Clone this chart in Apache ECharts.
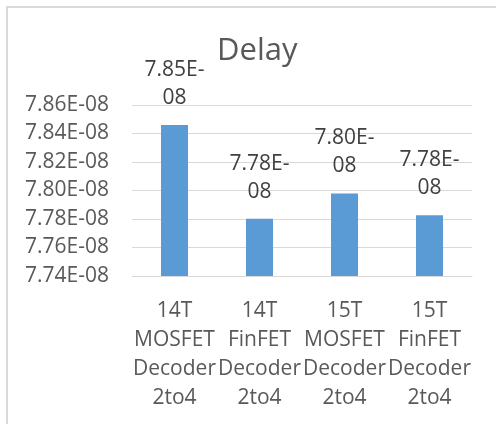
<!DOCTYPE html>
<html>
<head>
    <meta charset="UTF-8">
    <title>Delay</title>
    <script src="https://cdn.jsdelivr.net/npm/echarts@6/dist/echarts.min.js"></script>
    <style>
        html, body { margin: 0; padding: 0; background: #fff; }
        #chart { width: 496px; height: 424px; }
    </style>
</head>
<body>
<div id="chart"></div>
<script type="text/javascript">
    // 数据
    var categories = ['14T MOSFET Decoder 2to4', '14T FinFET Decoder 2to4', '15T MOSFET Decoder 2to4', '15T FinFET Decoder 2to4'];
    var delayValues = [7.846e-8, 7.7802e-8, 7.7979e-8, 7.7826e-8];
    var yMin = 7.74e-8, yMax = 7.86e-8, yStep = 0.02e-8;

    // Excel 0.00E+00 格式
    function sci(v) {
        var s = v.toExponential(2).split('e');
        var exp = parseInt(s[1], 10);
        var sign = exp < 0 ? '-' : '+';
        var e = Math.abs(exp);
        return s[0] + 'E' + sign + (e < 10 ? '0' + e : '' + e);
    }

    var font = '"Open Sans", "Noto Sans", sans-serif';
    var myChart = echarts.init(document.getElementById('chart'));

    var option = {
        animation: false,
        title: {
            text: 'Delay',
            left: 212,
            top: 31,
            textStyle: { fontFamily: font, fontSize: 31, fontWeight: 'normal', color: '#595959' }
        },
        graphic: [{
            type: 'rect',
            shape: { x: 7, y: 7, width: 520, height: 440 },
            style: { fill: 'none', stroke: '#d9d9d9', lineWidth: 2 },
            silent: true
        }],
        grid: { left: 132, right: 24, top: 105, bottom: 148 },
        xAxis: {
            type: 'category',
            data: categories,
            axisTick: { show: false },
            axisLine: { lineStyle: { color: '#d9d9d9', width: 1 } },
            axisLabel: {
                interval: 0,
                margin: 21,
                fontFamily: font,
                fontSize: 21,
                lineHeight: 29,
                color: '#595959',
                formatter: function (v) { return v.split(' ').join('\n'); }
            }
        },
        yAxis: {
            type: 'value',
            min: yMin,
            max: yMax,
            interval: yStep,
            axisLine: { show: false },
            axisTick: { show: false },
            splitLine: { lineStyle: { color: '#d9d9d9', width: 1 } },
            axisLabel: {
                margin: 23,
                fontFamily: font,
                fontSize: 21,
                color: '#595959',
                formatter: function (v) { return sci(v); }
            }
        },
        series: [{
            name: 'Delay',
            type: 'bar',
            data: delayValues,
            barWidth: 27,
            itemStyle: { color: '#5b9bd5' },
            label: {
                show: true,
                position: 'top',
                distance: 13,
                fontFamily: font,
                fontSize: 21,
                lineHeight: 28,
                color: '#404040',
                formatter: function (p) {
                    var s = sci(p.value);
                    var i = s.indexOf('E') + 2;
                    return s.substring(0, i) + '\n' + s.substring(i);
                }
            }
        }]
    };
    myChart.setOption(option);
</script>
</body>
</html>
